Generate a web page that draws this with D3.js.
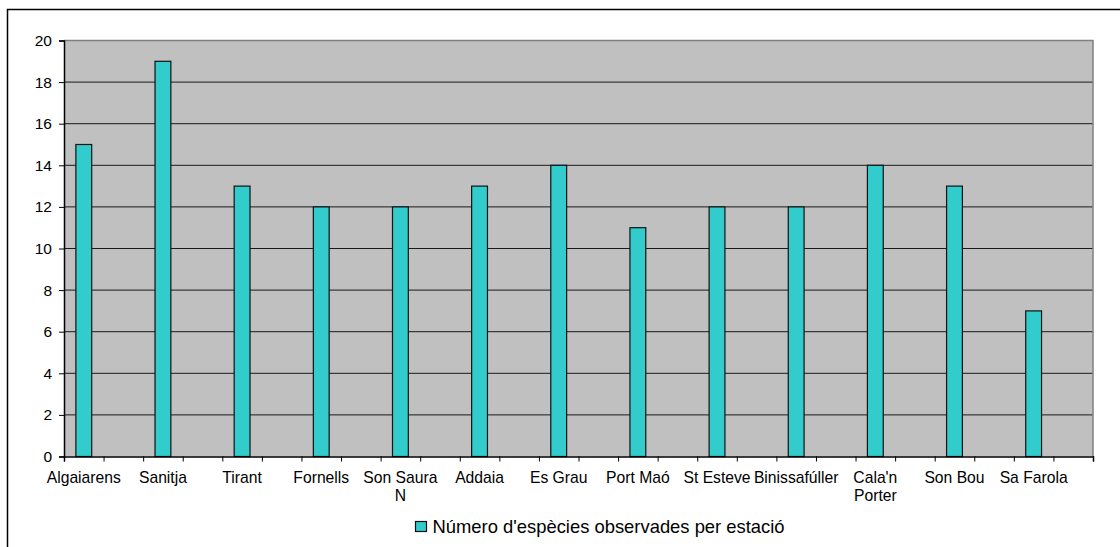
<!DOCTYPE html>
<html>
<head>
<meta charset="utf-8">
<script src="https://cdn.jsdelivr.net/npm/d3@7"></script>
<style>
  body { margin: 0; background: #fff; }
  text { font-family: Arial, "Liberation Sans", sans-serif; fill: #000; }
</style>
</head>
<body>
<div id="my_dataviz"></div>
<script>
// data
const stations = ["Algaiarens", "Sanitja", "Tirant", "Fornells", "Son Saura N", "Addaia",
  "Es Grau", "Port Maó", "St Esteve", "Binissafúller", "Cala'n Porter", "Son Bou", "Sa Farola"];
const especies = [15, 19, 13, 12, 12, 13, 14, 11, 12, 12, 14, 13, 7];
const yTicks = [0, 2, 4, 6, 8, 10, 12, 14, 16, 18, 20];
const seriesName = "Número d'espècies observades per estació";

// set the dimensions and margins of the graph
const W = 1120, H = 547;
const margin = { top: 40.5, right: 27, bottom: 90.5, left: 64 },
    width = W - margin.left - margin.right,
    height = H - margin.top - margin.bottom;

const root = d3.select("#my_dataviz")
    .append("svg")
    .attr("width", W)
    .attr("height", H);

// outer chart border (only top and left visible)
root.append("rect")
    .attr("x", 7.5).attr("y", 9.5)
    .attr("width", W + 10).attr("height", H + 10)
    .attr("fill", "none").attr("stroke", "#000").attr("stroke-width", 1.5);

const svg = root.append("g")
    .attr("transform", `translate(${margin.left}, ${margin.top})`);

// every station sits in its own slot with an empty slot after it
const slots = [];
stations.forEach((s, i) => { slots.push(s); slots.push("__gap" + i); });

const x = d3.scaleBand()
    .domain(slots)
    .range([0, width])
    .padding(0);

const xt = d3.scaleLinear()
    .domain([0, slots.length])
    .range([0, width]);

const y = d3.scaleLinear()
    .domain([0, 20])
    .range([height, 0]);

// plot area
svg.append("rect")
    .attr("width", width).attr("height", height)
    .attr("fill", "#c0c0c0");

// grid lines
svg.append("g")
    .selectAll("line")
    .data(yTicks.filter(d => d > 0 && d < 20))
    .join("line")
    .attr("x1", 0).attr("x2", width)
    .attr("y1", d => y(d)).attr("y2", d => y(d))
    .attr("stroke", "#1a1a1a");

// top / right border
svg.append("path")
    .attr("d", `M0,0H${width}V${height}`)
    .attr("fill", "none").attr("stroke", "#808080").attr("stroke-width", 1.5);

// bars
const bw = x.bandwidth() * 0.4;
svg.append("g")
    .selectAll("rect")
    .data(especies)
    .join("rect")
    .attr("x", (d, i) => x(stations[i]) + (x.bandwidth() - bw) / 2)
    .attr("y", d => y(d))
    .attr("width", bw)
    .attr("height", d => height - y(d))
    .attr("fill", "#33cccc")
    .attr("stroke", "#111")
    .attr("stroke-width", 1.2);

// Y axis
const yAxis = svg.append("g")
    .call(d3.axisLeft(y).tickValues(yTicks).tickSize(5).tickPadding(7));
yAxis.selectAll("text").style("font-size", "15.5px");
yAxis.select(".domain").attr("stroke-width", 1.5);

// X axis: tick marks on slot boundaries
const xTickAxis = svg.append("g")
    .attr("transform", `translate(0, ${height})`)
    .call(d3.axisBottom(xt).ticks(slots.length).tickSize(5).tickFormat(""));
xTickAxis.select(".domain").attr("stroke-width", 1.5);

// X labels
const xLab = svg.append("g")
    .attr("transform", `translate(0, ${height})`)
    .call(d3.axisBottom(x).tickSize(0).tickPadding(15)
        .tickFormat(d => d.startsWith("__gap") ? "" : d));
xLab.select(".domain").remove();
xLab.selectAll("text").style("font-size", "15.7px").call(wrap, 80);

function wrap(sel, maxW) {
    sel.each(function () {
        const t = d3.select(this);
        const words = t.text().split(/\s+/);
        if (words.length < 2 || this.getComputedTextLength() <= maxW) return;
        const yy = t.attr("y"), dy = parseFloat(t.attr("dy"));
        t.text(null);
        let line = [], n = 0;
        let ts = t.append("tspan").attr("x", 0).attr("y", yy).attr("dy", dy + "em");
        words.forEach(w => {
            line.push(w);
            ts.text(line.join(" "));
            if (ts.node().getComputedTextLength() > maxW && line.length > 1) {
                line.pop();
                ts.text(line.join(" "));
                line = [w];
                n++;
                ts = t.append("tspan").attr("x", 0).attr("y", yy)
                    .attr("dy", (dy + n * 1.15) + "em").text(w);
            }
        });
    });
}

// legend
const leg = root.append("g").attr("transform", "translate(415.5, 521.5)");
leg.append("rect")
    .attr("width", 11).attr("height", 10)
    .attr("fill", "#33cccc").attr("stroke", "#111").attr("stroke-width", 1.2);
leg.append("text")
    .attr("x", 17).attr("y", 11)
    .style("font-size", "18.4px")
    .text(seriesName);
</script>
</body>
</html>
